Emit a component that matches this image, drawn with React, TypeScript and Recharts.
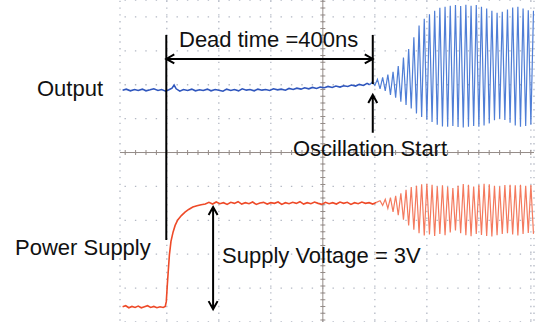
import React from "react"
import { ComposedChart, Line, XAxis, YAxis, CartesianGrid, ReferenceLine } from "recharts"

// time in ns (100 ns/div), level in V (1 V/div)
const gridTimes = [-300, -200, -100, 0, 100, 200, 300, 400]
const gridLevels = [-4, -3, -2, -1, 0, 1, 2, 3, 4]

const outputQuietT = [
  -385, -378, -370, -362, -355, -347, -340, -332, -325, -317, -310, -302, -296, -290, -286, -282,
  -275, -268, -260, -252, -245, -237, -230, -222, -215, -207, -200, -192, -185, -177, -170, -162,
  -155, -147, -140, -132, -125, -117, -110, -102, -95, -87, -80, -72, -65, -57, -50, -42, -35, -27,
  -20, -12, -5, 3, 10, 18, 25, 33, 40, 48, 55, 63, 70, 78, 85, 90,
]
const outputQuietV = [
  1.84, 1.87, 1.82, 1.86, 1.83, 1.87, 1.82, 1.85, 1.88, 1.83, 1.86, 1.81, 1.85, 1.9, 1.99, 1.88,
  1.81, 1.86, 1.83, 1.87, 1.82, 1.85, 1.83, 1.87, 1.82, 1.86, 1.84, 1.81, 1.87, 1.83, 1.86, 1.82,
  1.88, 1.84, 1.86, 1.82, 1.87, 1.84, 1.86, 1.83, 1.88, 1.85, 1.87, 1.84, 1.89, 1.86, 1.9, 1.87, 1.91, 1.88,
  1.92, 1.89, 1.93, 1.91, 1.95, 1.92, 1.96, 1.93, 1.97, 1.95, 1.99, 1.96, 2.01, 1.98, 2.04, 2.0,
]
const outputOscT = [
  90, 95, 100, 105, 110, 115, 120, 125, 130, 135, 140, 145, 150, 155, 160, 165, 170, 175, 180, 185, 190,
  195, 200, 205, 210, 215, 220, 225, 230, 235, 240, 245, 250, 255, 260, 265, 270, 275, 280, 285, 290,
  295, 300, 305, 310, 315, 320, 325, 330, 335, 340, 345, 350, 355, 360, 365, 370, 375, 380, 385, 390,
  395, 400, 405,
]
const outputOscV = [
  2.0, 2.08, 1.98, 2.16, 1.88, 2.22, 1.82, 2.3, 1.7, 2.38, 1.62, 2.55, 1.5, 2.8, 1.4, 3.05, 1.3, 3.4, 1.15, 3.75, 1.05,
  3.95, 0.97, 4.08, 0.9, 4.18, 0.82, 4.27, 0.77, 4.3, 0.76, 4.33, 0.78, 4.35, 0.75, 4.32, 0.74, 4.36, 0.76, 4.33, 0.78,
  4.35, 0.76, 4.3, 0.8, 4.25, 0.86, 4.18, 0.95, 4.12, 1.0, 4.15, 0.96, 4.22, 0.88, 4.28, 0.8, 4.3, 0.76, 4.25, 0.78,
  4.2, 0.82, 4.18,
]

const supplyRampT = [
  -385, -379, -373, -367, -361, -355, -349, -343, -337, -331, -325, -319, -313, -307, -303,
  -301, -299, -297, -295, -292, -288, -284, -279, -272, -265, -258, -250, -242, -234, -226,
]
const supplyRampV = [
  -4.55, -4.52, -4.58, -4.54, -4.57, -4.53, -4.58, -4.55, -4.52, -4.57, -4.54, -4.58, -4.55, -4.57, -4.54,
  -4.4, -3.9, -3.45, -3.02, -2.62, -2.35, -2.15, -1.99, -1.86, -1.76, -1.68, -1.61, -1.57, -1.54, -1.52,
]
const supplyFlatT = [
  -219, -212, -205, -198, -191, -184, -177, -170, -163, -156, -149, -142, -135, -128, -121, -114,
  -107, -100, -93, -86, -79, -72, -65, -58, -51, -44, -37, -30, -23, -16, -9, -2, 5, 12, 19, 26,
  33, 40, 47, 54, 61, 68, 75, 82, 89, 96, 103,
]
const supplyFlatV = [
  -1.47, -1.52, -1.46, -1.51, -1.48, -1.53, -1.47, -1.5, -1.45, -1.52, -1.48, -1.51, -1.46, -1.53, -1.49, -1.47,
  -1.52, -1.48, -1.5, -1.46, -1.53, -1.48, -1.51, -1.47, -1.5, -1.45, -1.52, -1.48, -1.51, -1.46, -1.5, -1.53,
  -1.47, -1.51, -1.48, -1.52, -1.46, -1.5, -1.47, -1.53, -1.48, -1.51, -1.46, -1.5, -1.48, -1.52, -1.47,
]
const supplyOscT = [
  103, 110, 115, 120, 125, 130, 135, 140, 145, 150, 155, 160, 165, 170, 175, 180, 185, 190, 195, 200, 205,
  210, 215, 220, 225, 230, 235, 240, 245, 250, 255, 260, 265, 270, 275, 280, 285, 290, 295, 300, 305,
  310, 315, 320, 325, 330, 335, 340, 345, 350, 355, 360, 365, 370, 375, 380, 385, 390, 395, 400, 405,
]
const supplyOscV = [
  -1.47, -1.42, -1.56, -1.38, -1.65, -1.33, -1.75, -1.28, -1.85, -1.2, -1.98, -1.1, -2.15, -1.02, -2.28, -0.98, -2.38, -0.94, -2.45, -0.92, -2.42,
  -0.95, -2.46, -1.0, -2.4, -0.97, -2.44, -1.02, -2.36, -1.05, -2.3, -0.98, -2.38, -0.93, -2.44, -0.95, -2.47, -1.0, -2.4, -0.96, -2.43,
  -0.92, -2.46, -0.94, -2.48, -0.98, -2.44, -1.0, -2.4, -0.96, -2.38, -0.95, -2.42, -0.97, -2.45, -0.95, -2.4, -0.98, -2.37, -0.96, -2.4,
]

// annotation anchors
const deadStart = -301
const oscStart = 96
const supplyArrowT = -211

const toPoints = (ts: number[], vs: number[]) => ts.map((t, i) => ({ t, v: vs[i] }))

const outputQuiet = toPoints(outputQuietT, outputQuietV)
const outputOsc = toPoints(outputOscT, outputOscV)
const supplyQuiet = toPoints([...supplyRampT, ...supplyFlatT], [...supplyRampV, ...supplyFlatV])
const supplyOsc = toPoints(supplyOscT, supplyOscV)

const arrow = (atStart: boolean, atEnd: boolean) => (p: any) => {
  const { x1, y1, x2, y2 } = p
  const len = Math.hypot(x2 - x1, y2 - y1) || 1
  const ux = (x2 - x1) / len
  const uy = (y2 - y1) / len
  const L = 8
  const W = 4.5
  const head = (x: number, y: number, d: number) =>
    `M${x - d * ux * L - uy * W},${y - d * uy * L + ux * W} L${x},${y} L${x - d * ux * L + uy * W},${y - d * uy * L - ux * W}`
  let path = `M${x1},${y1} L${x2},${y2}`
  if (atStart) path += " " + head(x1, y1, -1)
  if (atEnd) path += " " + head(x2, y2, 1)
  return <path d={path} stroke="#000" strokeWidth={2} fill="none" />
}

const font = { fontFamily: "'Liberation Sans', Arial, sans-serif", fontSize: 22, fill: "#111" }

const trace = (data: { t: number; v: number }[], color: string, width: number) => (
  <Line
    data={data}
    dataKey="v"
    type="linear"
    stroke={color}
    strokeWidth={width}
    dot={false}
    activeDot={false}
    isAnimationActive={false}
  />
)

export default function App() {
  return (
    <div style={{ position: "absolute", left: 0, top: 0, width: 535, height: 322, background: "#fff" }}>
      <ComposedChart width={535} height={322} margin={{ top: 0, right: 1, bottom: 0, left: 120 }}>
        <XAxis type="number" dataKey="t" domain={[-390, 406]} ticks={gridTimes} allowDataOverflow hide />
        <YAxis type="number" domain={[-5, 4.5]} ticks={gridLevels} allowDataOverflow hide />
        <CartesianGrid
          vertical={false}
          stroke="#b3b8c4"
          strokeWidth={1.3}
          strokeDasharray="1.4 9"
          strokeDashoffset={-4.5}
        />
        <CartesianGrid
          horizontal={false}
          stroke="#b3b8c4"
          strokeWidth={1.3}
          strokeDasharray="1.4 5.38"
          strokeDashoffset={-0.64}
        />
        <ReferenceLine segment={[{ x: -390, y: 0 }, { x: 406, y: 0 }]} stroke="#958c88" strokeWidth={1} />
        <ReferenceLine
          segment={[{ x: -390, y: 0 }, { x: 406, y: 0 }]}
          stroke="#958c88"
          strokeWidth={5}
          strokeDasharray="1 9.4"
          strokeDashoffset={-4.7}
        />
        <ReferenceLine segment={[{ x: 0, y: 4.5 }, { x: 0, y: -5 }]} stroke="#958c88" strokeWidth={1} />
        <ReferenceLine
          segment={[{ x: 0, y: 4.5 }, { x: 0, y: -5 }]}
          stroke="#958c88"
          strokeWidth={5}
          strokeDasharray="1 5.78"
          strokeDashoffset={-0.84}
        />
        {trace(supplyOsc, "#f47a5e", 1.2)}
        {trace(supplyQuiet, "#ee4a28", 1.6)}
        {trace(outputOsc, "#4f7ed6", 1.2)}
        {trace(outputQuiet, "#2f56bd", 1.6)}
        <ReferenceLine segment={[{ x: deadStart, y: 3.47 }, { x: deadStart, y: -2.58 }]} shape={arrow(false, false)} />
        <ReferenceLine segment={[{ x: oscStart, y: 3.47 }, { x: oscStart, y: 2.02 }]} shape={arrow(false, false)} />
        <ReferenceLine segment={[{ x: deadStart, y: 2.76 }, { x: oscStart, y: 2.76 }]} shape={arrow(true, true)} />
        <ReferenceLine segment={[{ x: oscStart, y: 0.58 }, { x: oscStart, y: 1.7 }]} shape={arrow(false, true)} />
        <ReferenceLine
          segment={[{ x: supplyArrowT, y: -1.61 }, { x: supplyArrowT, y: -4.62 }]}
          shape={arrow(true, true)}
        />
      </ComposedChart>
      <svg width={535} height={322} style={{ position: "absolute", left: 0, top: 0, pointerEvents: "none" }}>
        <text x={37} y={96} style={font}>Output</text>
        <text x={179} y={47} style={font}>Dead time =400ns</text>
        <text x={293} y={156} style={font}>Oscillation Start</text>
        <text x={15} y={255} style={font}>Power Supply</text>
        <text x={222} y={263} style={font}>Supply Voltage = 3V</text>
      </svg>
    </div>
  )
}
